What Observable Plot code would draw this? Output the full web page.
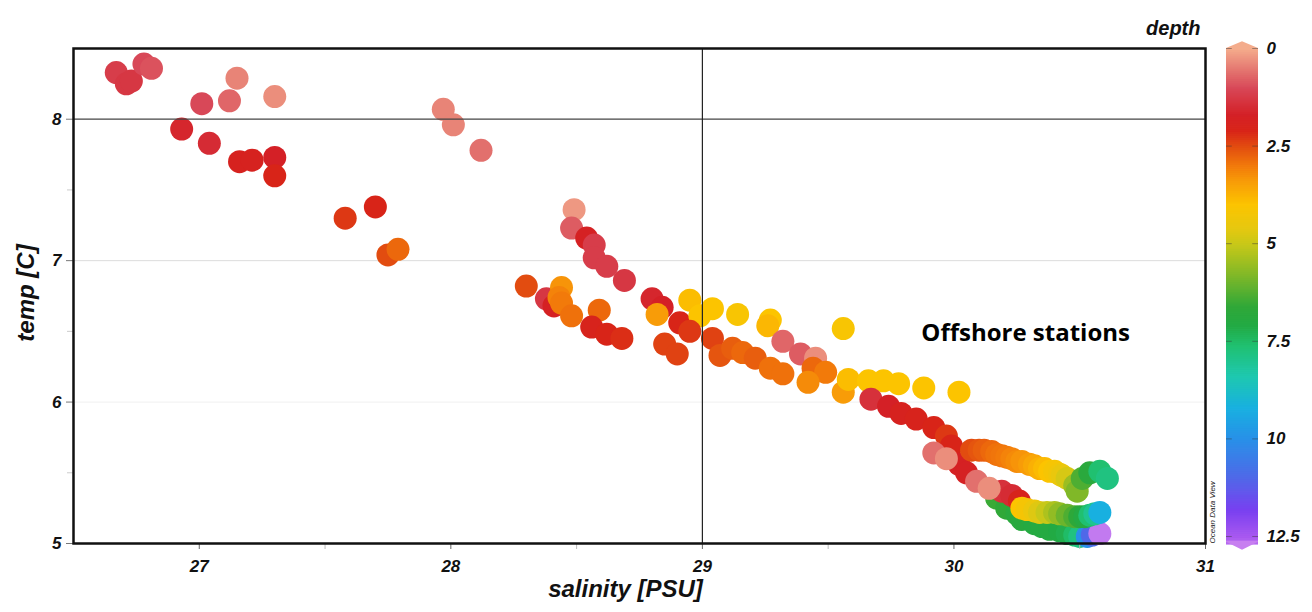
<!DOCTYPE html>
<html>
<head>
<meta charset="utf-8">
<script src="https://cdn.jsdelivr.net/npm/d3@7"></script>
<script src="https://cdn.jsdelivr.net/npm/@observablehq/plot@0.6"></script>
<style>
  html, body { margin: 0; padding: 0; background: #fff; }
  #wrap { position: relative; width: 1312px; height: 612px; overflow: hidden; }
  #main { position: absolute; left: 0; top: 0; }
  #legend { position: absolute; left: 1150px; top: 0; }
</style>
</head>
<body>
<div id="wrap"><div id="main"></div><div id="legend"></div></div>
<script>
// ---- data ----
const salinity = [
  26.67, 26.71, 26.73, 26.78, 26.81, 27.01, 27.12, 27.15, 27.30, 26.93, 27.04, 27.16, 27.21, 27.30, 27.30, 27.58, 27.70, 27.75, 27.79, 27.97, 28.01, 28.12,
  28.49, 28.48, 28.54, 28.57, 28.57, 28.62, 28.69, 28.30, 28.38, 28.41, 28.44, 28.43, 28.44, 28.48, 28.59, 28.56, 28.62, 28.68,
  28.80, 28.84, 28.82, 28.85, 28.90, 28.91, 28.95, 28.99, 28.95, 29.04, 29.04, 29.07, 29.12, 29.14, 29.16, 29.21, 29.27, 29.26,
  29.27, 29.32, 29.56, 29.32, 29.39, 29.45, 29.44, 29.49, 29.42, 29.56, 29.58, 29.66, 29.72, 29.78, 29.88, 30.02,
  // bottom branch
  30.17, 30.21, 30.25, 30.27, 30.32, 30.35, 30.38, 30.42, 30.45, 30.48, 30.50, 30.53, 30.55, 30.58,
  // red descent
  29.67, 29.74, 29.79, 29.85, 29.92, 29.97, 29.99, 30.02, 30.05, 30.19, 30.23, 30.26,
  29.92, 29.97, 30.09, 30.14,
  // lower branch
  30.27, 30.29, 30.32, 30.34, 30.37, 30.40, 30.42, 30.45, 30.48, 30.50, 30.52, 30.54, 30.56, 30.58,
  // upper branch
  30.07, 30.10, 30.12, 30.15, 30.17, 30.19, 30.21, 30.23, 30.25, 30.27, 30.30, 30.32, 30.34, 30.36, 30.38, 30.40, 30.42, 30.43, 30.45, 30.48, 30.49, 30.51, 30.54, 30.58, 30.61
];
const temperature = [
  8.33, 8.25, 8.27, 8.39, 8.36, 8.11, 8.13, 8.29, 8.16, 7.93, 7.83, 7.70, 7.71, 7.73, 7.60, 7.30, 7.38, 7.04, 7.08, 8.07, 7.96, 7.78,
  7.36, 7.23, 7.16, 7.11, 7.02, 6.96, 6.86, 6.82, 6.73, 6.68, 6.81, 6.74, 6.70, 6.61, 6.65, 6.53, 6.48, 6.45,
  6.73, 6.67, 6.62, 6.41, 6.34, 6.56, 6.72, 6.61, 6.50, 6.66, 6.45, 6.33, 6.38, 6.62, 6.35, 6.31, 6.58, 6.54,
  6.24, 6.20, 6.52, 6.43, 6.34, 6.31, 6.24, 6.21, 6.14, 6.07, 6.16, 6.15, 6.15, 6.13, 6.10, 6.07,
  5.32, 5.25, 5.21, 5.17, 5.14, 5.12, 5.10, 5.09, 5.07, 5.06, 5.05, 5.05, 5.06, 5.07,
  6.02, 5.97, 5.92, 5.88, 5.82, 5.76, 5.69, 5.56, 5.50, 5.37, 5.34, 5.30,
  5.64, 5.60, 5.44, 5.39,
  5.25, 5.24, 5.23, 5.22, 5.22, 5.22, 5.21, 5.20, 5.19, 5.19, 5.19, 5.20, 5.21, 5.22,
  5.66, 5.66, 5.66, 5.65, 5.63, 5.62, 5.61, 5.60, 5.58, 5.58, 5.56, 5.55, 5.53, 5.53, 5.51, 5.51, 5.49, 5.48, 5.46, 5.41, 5.37, 5.46, 5.50, 5.51, 5.46
];
const depth = [
  1.2, 1.3, 1.3, 1.0, 0.9, 1.0, 0.7, 0.4, 0.3, 1.6, 1.5, 1.9, 1.9, 1.7, 2.1, 2.3, 2.1, 2.5, 2.8, 0.4, 0.4, 0.6,
  0.2, 0.8, 1.8, 1.2, 1.2, 1.2, 1.3, 2.5, 1.3, 1.8, 3.3, 3.1, 3.0, 2.9, 2.8, 2.0, 2.1, 2.2,
  1.6, 1.7, 3.4, 2.4, 2.4, 2.1, 3.9, 4.0, 2.3, 4.0, 2.4, 2.6, 2.7, 4.1, 2.8, 2.7, 4.0, 3.8,
  2.9, 2.9, 4.1, 0.7, 0.8, 0.3, 2.8, 3.0, 3.2, 3.4, 3.9, 4.0, 4.0, 4.0, 4.0, 4.0,
  6.5, 6.6, 6.8, 6.9, 7.0, 7.0, 7.0, 7.1, 7.2, 7.5, 7.8, 10.0, 11.0, 12.8,
  1.4, 1.7, 1.9, 2.0, 2.1, 2.3, 2.1, 1.8, 1.8, 1.4, 1.5, 2.0,
  0.6, 0.3, 0.6, 0.3,
  4.0, 4.2, 4.4, 4.7, 5.0, 5.3, 5.6, 6.0, 6.3, 6.7, 7.0, 7.6, 8.0, 9.2,
  2.5, 2.6, 2.7, 2.8, 2.9, 2.95, 3.0, 3.1, 3.2, 3.3, 3.4, 3.55, 3.7, 3.85, 4.0, 4.15, 4.3, 4.5, 4.8, 5.5, 5.8, 6.3, 6.8, 7.6, 7.8
];

const xTicks = [27, 28, 29, 30, 31];
const xMinor = [27.5, 28.5, 29.5, 30.5];
const yTicks = [5, 6, 7, 8];
const yMinor = [5.5, 6.5, 7.5];
const depthTicks = [0, 2.5, 5, 7.5, 10, 12.5];

// colour bar stops (depth -> colour)
const depthStops  = [0, 0.5, 1.0, 1.7, 2.1, 2.5, 3.0, 3.4, 4.0, 4.6, 5.0, 5.8, 6.6, 7.1, 7.6, 8.4, 9.2, 10, 11, 11.8, 12.5, 13];
const depthColors = ["#f4ac8c", "#e57a72", "#d84858", "#d42026", "#d82418", "#e24c10", "#f27a0a", "#f89c08", "#fcc400", "#e6c810", "#c8c818", "#80b828", "#30a838", "#22aa44", "#20c070", "#1ec8b0", "#18b0e0", "#2890e8", "#5068e8", "#7840f0", "#a858f0", "#d490f0"];

const annotations = [{sal: 30.285, temp: 6.483, label: "Offshore stations"}];
const axisTitles = {x: "salinity [PSU]", y: "temp [C]", color: "depth"};
const brand = ["Ocean Data View"];

const rows = salinity.map((s, i) => ({sal: s, temp: temperature[i], depth: depth[i]}));

const colorOpts = {type: "linear", domain: depthStops, range: depthColors, interpolate: "rgb", clamp: true};
const FONT = "'Liberation Sans', Arial, sans-serif";
const lab = {fontFamily: FONT, fontWeight: "bold", fontStyle: "italic"};

const chart = Plot.plot({
  width: 1312, height: 612,
  marginLeft: 73, marginRight: 107, marginTop: 48, marginBottom: 69,
  style: {fontFamily: FONT, background: "transparent", overflow: "visible"},
  x: {domain: [26.5, 31], label: null},
  y: {domain: [5, 8.5], label: null},
  color: colorOpts,
  marks: [
    Plot.ruleY([6], {stroke: "#f0f0f0"}),
    Plot.ruleY([7], {stroke: "#dcdcdc"}),
    Plot.dot(rows, {x: "sal", y: "temp", r: 11.5, fill: "depth"}),
    Plot.ruleY([8], {stroke: "#444", strokeWidth: 1.2}),
    Plot.ruleX([29], {stroke: "#222", strokeWidth: 1.2}),
    Plot.axisX(xMinor, {tickSize: 6, stroke: "#bbb", tickFormat: () => "", label: null}),
    Plot.axisX(xTicks, {tickSize: 6, tickPadding: 10, stroke: "#666", fill: "#111", fontSize: 17, ...lab, tickFormat: d => String(d), label: null}),
    Plot.axisY(yMinor, {tickSize: 6, stroke: "#ccc", tickFormat: () => "", label: null}),
    Plot.axisY(yTicks, {tickSize: 7, tickPadding: 5, stroke: "#777", fill: "#111", fontSize: 17, ...lab, tickFormat: d => String(d), label: null}),
    Plot.frame({stroke: "#111", strokeWidth: 2.5}),
    Plot.text([axisTitles.y], {frameAnchor: "left", textAnchor: "middle", dx: -47, dy: -3, rotate: -90, fontSize: 24, fill: "#111", ...lab}),
    Plot.text([axisTitles.x], {frameAnchor: "bottom", textAnchor: "middle", dx: -14, dy: 53, fontSize: 24, fill: "#111", ...lab}),
    Plot.text(annotations, {x: "sal", y: "temp", text: "label", fontSize: 24, fontWeight: "bold", fontFamily: "'Open Sans', 'Noto Sans', sans-serif", fill: "#000"})
  ]
});
document.getElementById("main").append(chart);

const ramp = d3.range(0, 12.66, 0.05);
const topArrow = [{x: 0, y1: 0, y2: 0.02, d: 0}, {x: 0.5, y1: -0.17, y2: 0.02, d: 0}, {x: 1, y1: 0, y2: 0.02, d: 0}];
const botArrow = [{x: 0, y1: 12.62, y2: 12.65, d: 12.85}, {x: 0.5, y1: 12.62, y2: 12.85, d: 12.85}, {x: 1, y1: 12.62, y2: 12.65, d: 12.85}];

const legend = Plot.plot({
  width: 162, height: 612,
  marginLeft: 76, marginRight: 54, marginTop: 48, marginBottom: 76,
  style: {fontFamily: FONT, background: "transparent", overflow: "visible"},
  x: {domain: [0, 1], axis: null},
  y: {domain: [0, 12.5], reverse: true, axis: null},
  color: colorOpts,
  marks: [
    Plot.rect(ramp, {x1: () => 0, x2: () => 1, y1: d => d, y2: d => d + 0.07, fill: d => d}),
    Plot.areaY(topArrow, {x: "x", y1: "y1", y2: "y2", fill: "d"}),
    Plot.areaY(botArrow, {x: "x", y1: "y1", y2: "y2", fill: "d"}),
    Plot.ruleY(depthTicks, {y: d => d, x1: () => 0.0, x2: () => 0.18, stroke: "#333", strokeOpacity: 0.45}),
    Plot.ruleY(depthTicks, {y: d => d, x1: () => 0.82, x2: () => 1.0, stroke: "#333", strokeOpacity: 0.45}),
    Plot.text(depthTicks, {x: () => 1, y: d => d, dx: 8, text: d => String(d), textAnchor: "start", fontSize: 17, fill: "#111", ...lab}),
    Plot.text([axisTitles.color], {frameAnchor: "top-left", dx: -26, dy: -28, textAnchor: "end", fontSize: 20, fill: "#111", ...lab}),
    Plot.text(brand, {frameAnchor: "bottom-left", dx: -12, dy: 7, rotate: -90, textAnchor: "start", fontSize: 8, fill: "#222", fontFamily: FONT, fontStyle: "italic"})
  ]
});
document.getElementById("legend").append(legend);
</script>
</body>
</html>
